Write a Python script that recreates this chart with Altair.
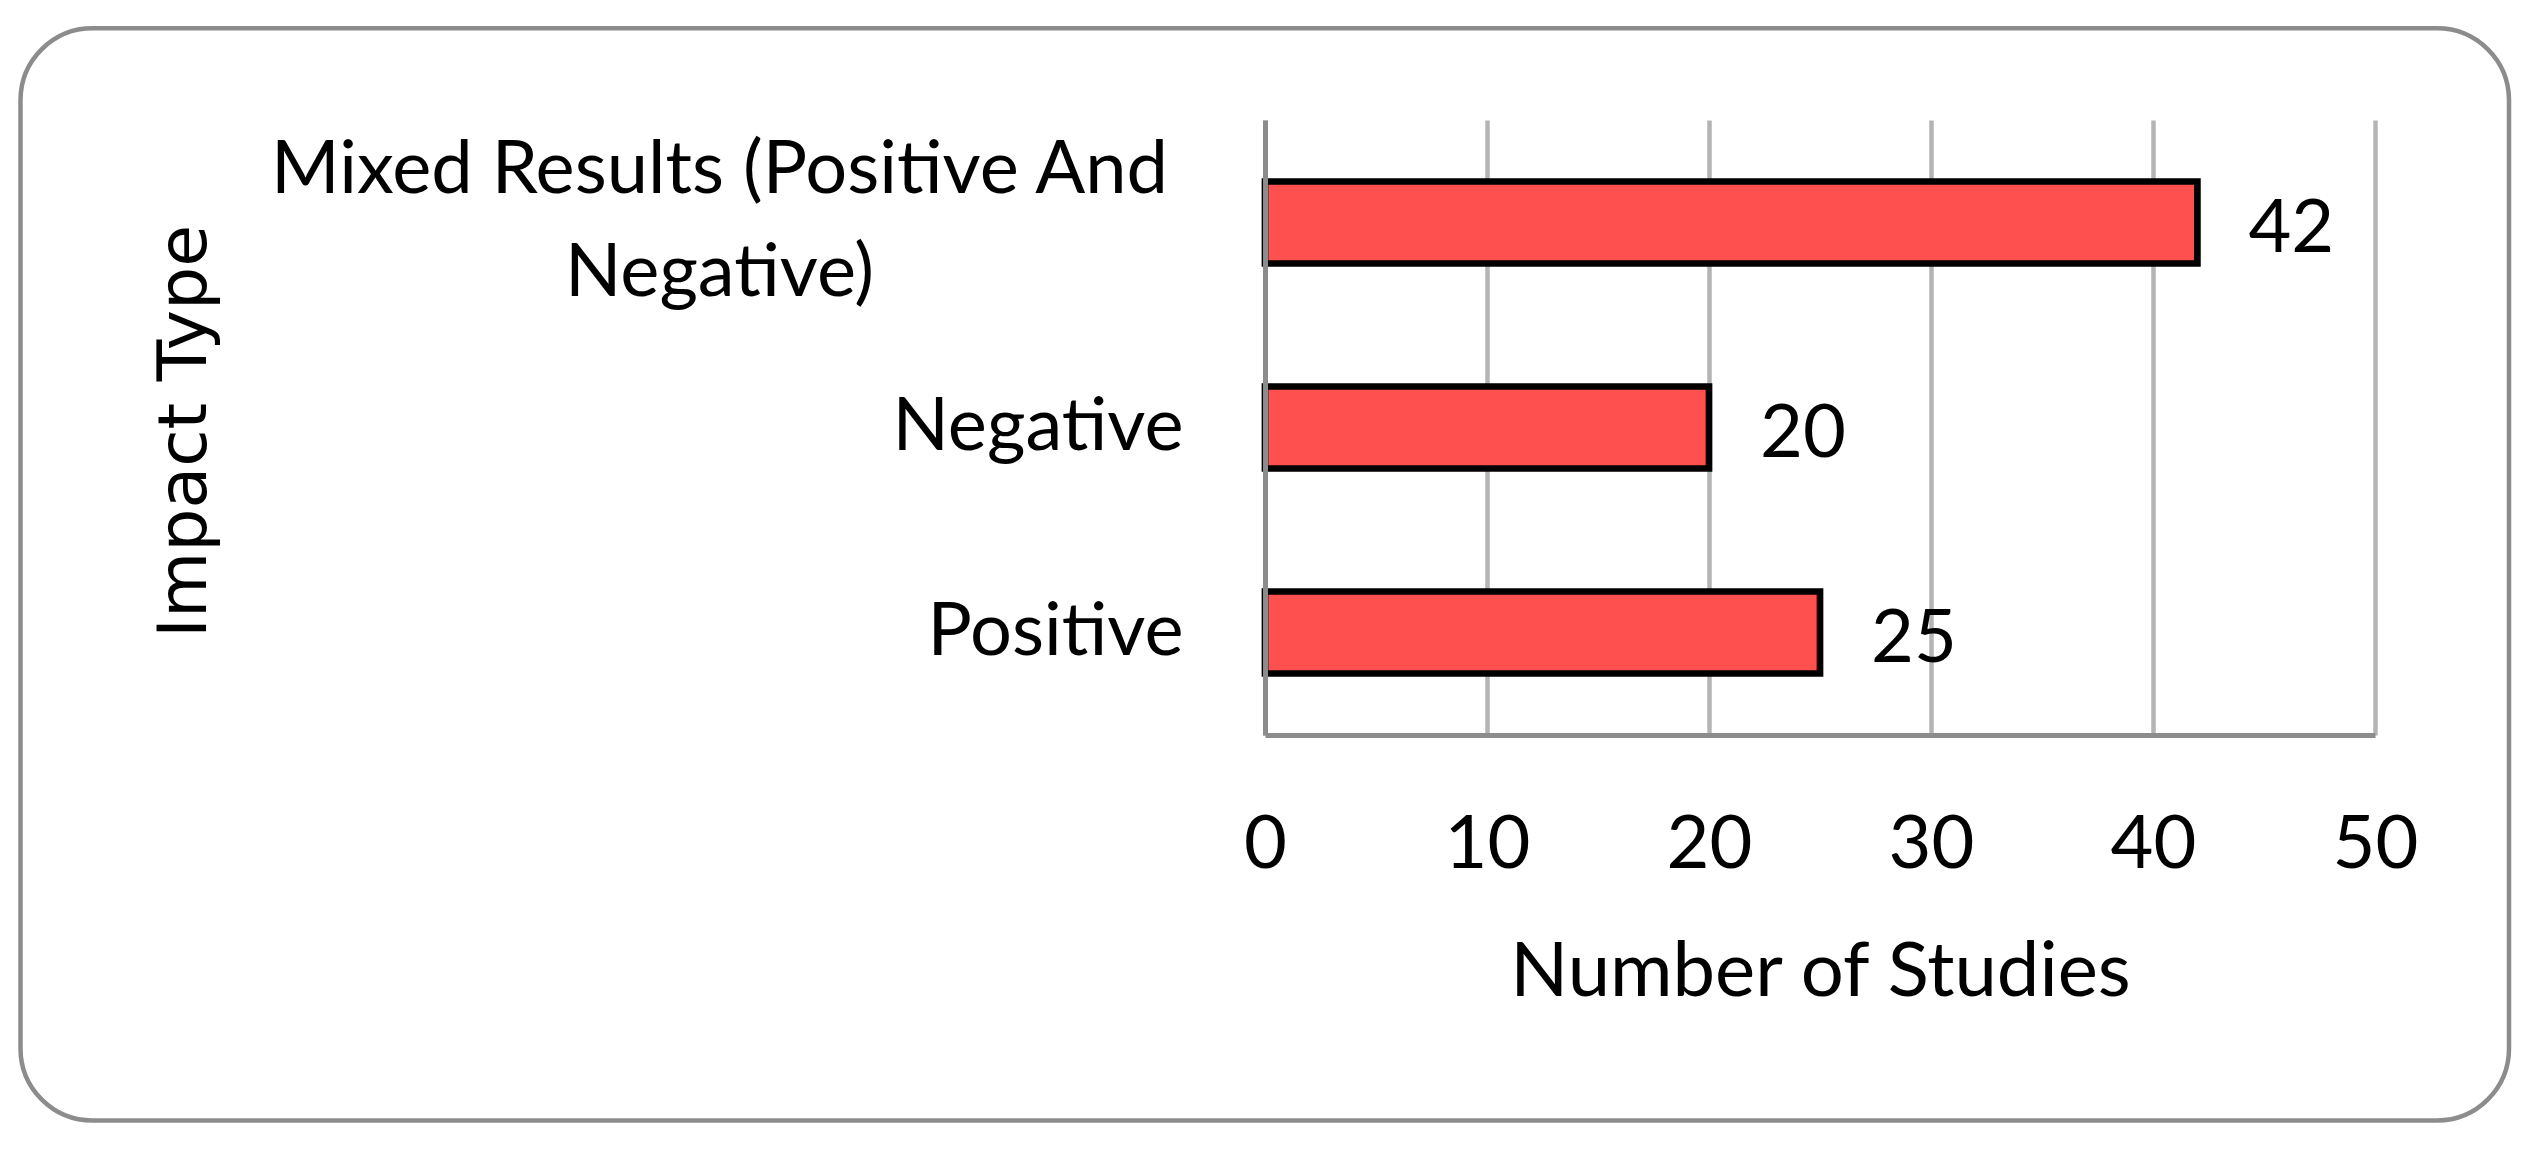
import altair as alt
import pandas as pd

# ---- data ----
categories = ["Mixed Results (Positive And Negative)", "Negative", "Positive"]
counts = [42, 20, 25]
x_ticks = [0, 10, 20, 30, 40, 50]

df = pd.DataFrame({"Impact Type": categories, "Number of Studies": counts})

MIXED = categories[0]
test = f"datum.value == '{MIXED}'"

FONT = "Lato"
FS = 74
GRID = "#b4b4b4"
AXIS = "#8c8c8c"

x_enc = alt.X(
    "Number of Studies:Q",
    scale=alt.Scale(domain=[0, 50], nice=False, zero=True),
    axis=alt.Axis(
        values=x_ticks, format="d",
        title="Number of Studies", titleFont=FONT, titleFontSize=76,
        titleFontWeight="normal", titleColor="black",
        titleBaseline="middle", titleY=237,
        labelFont=FONT, labelFontSize=FS, labelColor="black",
        labelBaseline="middle", labelPadding=110,
        labelFlush=False, labelOverlap=False,
        ticks=False, tickSize=0,
        domainColor=AXIS, domainWidth=5,
        grid=True, gridColor=GRID, gridWidth=4.5,
    ),
)

y_enc = alt.Y(
    "Impact Type:N",
    sort=categories,
    scale=alt.Scale(paddingInner=0.6, paddingOuter=0.3),
    axis=alt.Axis(
        title="Impact Type", titleFont="DejaVu Sans", titleFontSize=68,
        titleFontWeight="normal", titleColor="black",
        titleAngle=270, titleAlign="center", titleBaseline="alphabetic",
        titleX=-1060, titleY=311,
        labelFont=FONT, labelFontSize=FS, labelColor="black", labelLimit=2000,
        labelExpr=f"datum.value == '{MIXED}' ? ['Mixed Results (Positive And', 'Negative)'] : datum.label",
        labelLineHeight=103, labelBaseline="middle",
        labelAlign={"condition": {"test": test, "value": "center"}, "value": "right"},
        labelPadding={"condition": {"test": test, "value": 546}, "value": 82},
        labelOffset={"condition": {"test": test, "value": -52}, "value": 0},
        ticks=False, tickSize=0,
        domainColor=AXIS, domainWidth=5,
        grid=False, zindex=1,
    ),
)

base = alt.Chart(df).encode(x=x_enc, y=y_enc)

bars = base.mark_bar(color="#FF5050", stroke="black", strokeWidth=6.7, strokeJoin="miter")

text = base.mark_text(
    align="left", baseline="middle", dx=51, dy=7,
    font=FONT, fontSize=FS, color="black",
).encode(text="Number of Studies:Q")

frame = alt.Chart(pd.DataFrame({"f": [0]})).mark_rect(
    fill="transparent", stroke="#8c8c8c", strokeWidth=4.5, cornerRadius=72
).encode(
    x=alt.value(-1244.5), x2=alt.value(1244),
    y=alt.value(-91.7), y2=alt.value(1000.5),
)

chart = alt.layer(frame, bars, text).properties(
    width=1110, height=615,
    padding={"left": 1257, "top": 112, "right": 150, "bottom": 395},
    autosize=alt.AutoSizeParams(type="none"),
    background="white",
).configure_view(stroke=None)

chart.save("out.html", embed_options={"renderer": "svg", "actions": False})
